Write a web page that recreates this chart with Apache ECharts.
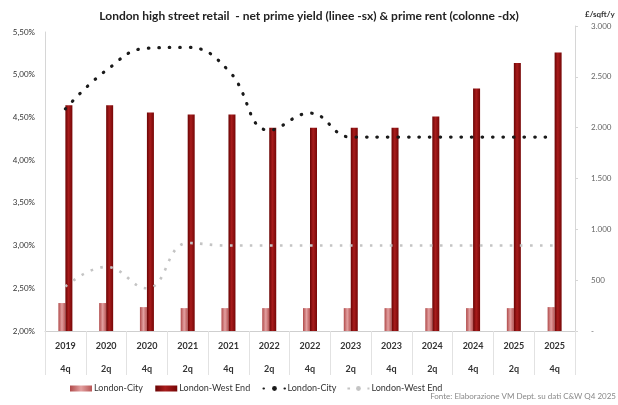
<!DOCTYPE html>
<html>
<head>
<meta charset="utf-8">
<script src="https://cdn.jsdelivr.net/npm/echarts@6/dist/echarts.min.js"></script>
<style>
html,body{margin:0;padding:0;background:#fff;}
#c{width:618px;height:405px;}
</style>
</head>
<body>
<div id="c"></div>
<script>
var years = ['2019','2020','2020','2021','2021','2022','2022','2023','2023','2024','2024','2025','2025'];
var quarters = ['4q','2q','4q','2q','4q','2q','4q','2q','4q','2q','4q','2q','4q'];
var rentCity = [275, 275, 235, 225, 225, 225, 225, 225, 225, 225, 225, 225, 235];
var rentWestEnd = [2220, 2220, 2150, 2130, 2130, 2000, 2000, 2000, 2000, 2110, 2385, 2635, 2740];
var yieldCity = [4.60, 5.05, 5.31, 5.32, 5.05, 4.35, 4.55, 4.27, 4.27, 4.27, 4.27, 4.27, 4.27];
var yieldWestEnd = [2.52, 2.75, 2.50, 3.03, 3.00, 3.00, 3.00, 3.00, 3.00, 3.00, 3.00, 3.00, 3.00];
var rightTickLabels = {0:'-',500:'500',1000:'1.000',1500:'1.500',2000:'2.000',2500:'2.500',3000:'3.000'};

var categories = years.map(function(y,i){return y+'\n'+quarters[i];});
var FONT = 'Lato, "Open Sans", sans-serif';

var chart = echarts.init(document.getElementById('c'), null, {renderer:'canvas'});

var weColor = new echarts.graphic.LinearGradient(0,0,1,0,[
  {offset:0,color:'#6a0404'},{offset:0.45,color:'#a81c1c'},{offset:1,color:'#760606'}]);
var cityColor = new echarts.graphic.LinearGradient(0,0,1,0,[
  {offset:0,color:'#b04a4a'},{offset:0.5,color:'#e3a0a0'},{offset:1,color:'#b85555'}]);

chart.setOption({
  animation:false,
  backgroundColor:'#fff',
  title:{
    text:'London high street retail  - net prime yield (linee -sx) & prime rent (colonne -dx)',
    left:'center', top:5,
    textStyle:{fontFamily:FONT,fontSize:12,fontWeight:'bold',color:'#222'}
  },
  graphic:[
    {type:'text',left:585,top:10,style:{text:'£/sqft/y',font:'bold 8px '+FONT,fill:'#333'}},
    {type:'text',right:2,top:392,style:{text:'Fonte: Elaborazione VM Dept. su dati C&W Q4 2025',font:'8px '+FONT,fill:'#888'}}
  ],
  legend:{
    left:65, top:379, itemGap:10, itemWidth:22, itemHeight:6,
    textStyle:{fontFamily:FONT,fontSize:9,color:'#333',padding:[0,0,0,-3]},
    data:[
      {name:'London-City ', icon:'rect'},
      {name:'London-West End ', icon:'rect'},
      {name:'London-City'},
      {name:'London-West End'}
    ]
  },
  grid:[
    {left:45,right:43,top:32,bottom:74},
    {left:45,right:43,top:26,bottom:74}
  ],
  xAxis:[
    {type:'category',gridIndex:0,data:categories,boundaryGap:true,
     axisLine:{show:true,lineStyle:{color:'#cfcfcf',width:1}},
     axisTick:{show:true,interval:0,length:44,lineStyle:{color:'#e2e2e2'}},
     axisLabel:{interval:0,margin:4,fontFamily:FONT,fontSize:9,fontWeight:'bold',color:'#333',lineHeight:23}
    },
    {type:'category',gridIndex:1,data:categories,boundaryGap:true,show:false}
  ],
  yAxis:[
    {type:'value',gridIndex:0,position:'left',min:2,max:5.5,interval:0.5,
     axisLine:{show:true,lineStyle:{color:'#d6d6d6'}},
     axisTick:{show:false},splitLine:{show:false},
     axisLabel:{margin:10,fontFamily:FONT,fontSize:8,color:'#333',
       formatter:function(v){return v.toFixed(2).replace('.',',')+'%';}}
    },
    {type:'value',gridIndex:1,position:'right',min:0,max:3000,interval:500,
     axisLine:{show:true,lineStyle:{color:'#d6d6d6'}},
     axisTick:{show:true,length:3,lineStyle:{color:'#d6d6d6'}},splitLine:{show:false},
     axisLabel:{margin:16,fontFamily:FONT,fontSize:8,color:'#666',
       formatter:function(v){return rightTickLabels[v]!==undefined?rightTickLabels[v]:v;}}
    }
  ],
  series:[
    {name:'London-City ',type:'bar',xAxisIndex:1,yAxisIndex:1,data:rentCity,
     barWidth:7,barGap:'0%',itemStyle:{color:cityColor}},
    {name:'London-West End ',type:'bar',xAxisIndex:1,yAxisIndex:1,data:rentWestEnd,
     barWidth:7,barGap:'0%',itemStyle:{color:weColor}},
    {name:'London-City',type:'line',xAxisIndex:0,yAxisIndex:0,data:yieldCity,
     smooth:0.45,showSymbol:false,symbol:'none',z:5,
     itemStyle:{color:'#1a1a1a'},
     lineStyle:{color:'#1a1a1a',width:3.2,type:[0.5,10],cap:'round'}},
    {name:'London-West End',type:'line',xAxisIndex:0,yAxisIndex:0,data:yieldWestEnd,
     smooth:0.45,showSymbol:false,symbol:'none',z:5,
     itemStyle:{color:'#c4c4c4'},
     lineStyle:{color:'#c4c4c4',width:2.6,type:[2.6,7.4]}}
  ]
});
</script>
</body>
</html>
